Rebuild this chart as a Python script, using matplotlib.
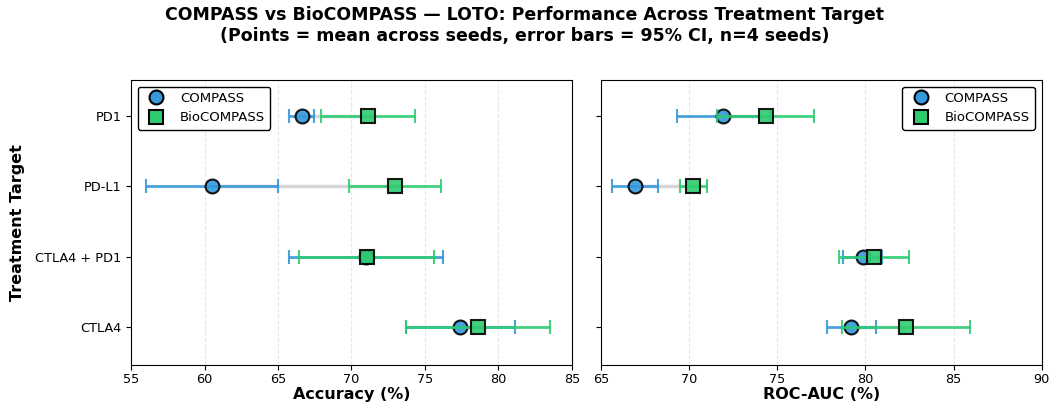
import numpy as np
import matplotlib.pyplot as plt
from matplotlib.lines import Line2D

# Data (bottom to top)
targets = ['CTLA4', 'CTLA4 + PD1', 'PD-L1', 'PD1']

acc_compass = [77.4, 71.0, 60.5, 66.6]
acc_compass_ci = [3.7, 5.25, 4.5, 0.85]
acc_bio = [78.6, 71.05, 72.95, 71.15]
acc_bio_ci = [4.9, 4.6, 3.15, 3.2]

auc_compass = [79.2, 79.85, 66.95, 71.95]
auc_compass_ci = [1.4, 1.1, 1.3, 2.65]
auc_bio = [82.3, 80.5, 70.25, 74.35]
auc_bio_ci = [3.65, 2.0, 0.77, 2.75]

BLUE = '#3498db'
GREEN = '#2ecc71'

fig, axes = plt.subplots(1, 2, figsize=(10.49, 4.04), dpi=100, sharey=True)
fig.subplots_adjust(left=0.125, right=0.993, top=0.802, bottom=0.0965, wspace=0.066)

y = np.arange(len(targets))

panels = [
    (axes[0], acc_compass, acc_compass_ci, acc_bio, acc_bio_ci, 'Accuracy (%)', (55, 85), 'upper left'),
    (axes[1], auc_compass, auc_compass_ci, auc_bio, auc_bio_ci, 'ROC-AUC (%)', (65, 90), 'upper right'),
]

handles = [
    Line2D([], [], marker='o', ls='none', color=BLUE, markersize=10,
           markeredgecolor='black', markeredgewidth=1.5, label='COMPASS'),
    Line2D([], [], marker='s', ls='none', color=GREEN, markersize=10,
           markeredgecolor='black', markeredgewidth=1.5, label='BioCOMPASS'),
]

for ax, cm, cci, bm, bci, label, xlim, loc in panels:
    # connecting line between means
    for i in range(len(y)):
        ax.plot([cm[i], bm[i]], [y[i], y[i]], color='#bbbbbb', lw=2.5, alpha=0.6, zorder=1)
    ax.errorbar(cm, y, xerr=cci, fmt='o', color=BLUE, ecolor=BLUE, elinewidth=2,
                capsize=5, capthick=1.5, markersize=10, markeredgecolor='black',
                markeredgewidth=1.5, alpha=0.9, zorder=2)
    ax.errorbar(bm, y, xerr=bci, fmt='s', color=GREEN, ecolor=GREEN, elinewidth=2,
                capsize=5, capthick=1.5, markersize=10, markeredgecolor='black',
                markeredgewidth=1.5, alpha=0.9, zorder=3)
    ax.set_xlim(*xlim)
    ax.set_xlabel(label, fontsize=11.5, fontweight='bold', labelpad=1)
    ax.tick_params(labelsize=9.3)
    ax.tick_params(axis='x', pad=2)
    ax.grid(axis='x', linestyle='--', alpha=0.3)
    ax.legend(handles=handles, loc=loc, fontsize=9.5, framealpha=1, edgecolor='black')
    ax.set_ylim(-0.54, 3.51)

axes[0].set_yticks(y)
axes[0].set_yticklabels(targets)
axes[0].set_ylabel('Treatment Target', fontsize=11.5, fontweight='bold', labelpad=7)

fig.suptitle('COMPASS vs BioCOMPASS — LOTO: Performance Across Treatment Target\n'
             '(Points = mean across seeds, error bars = 95% CI, n=4 seeds)',
             fontsize=12.5, fontweight='bold', y=0.985)

fig.savefig('out.png', dpi=100)
